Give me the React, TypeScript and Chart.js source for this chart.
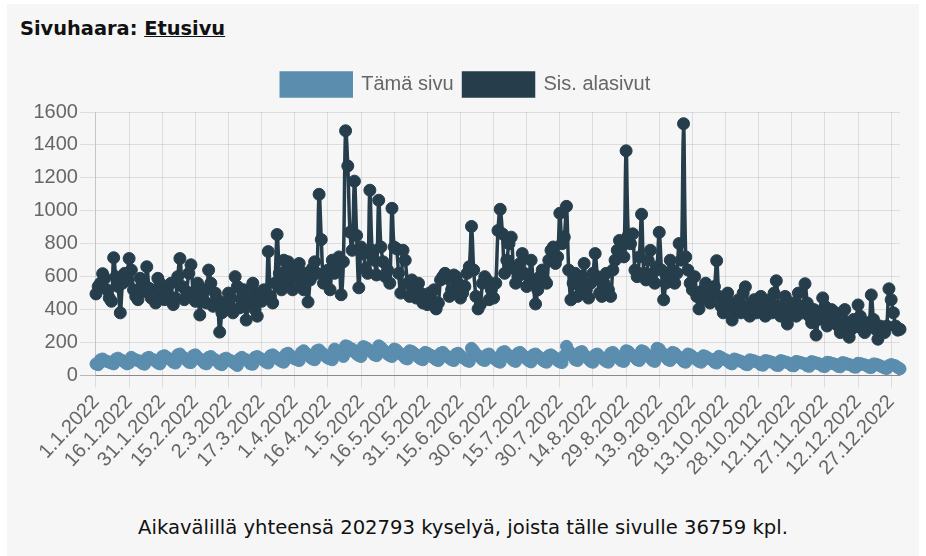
import React, { useEffect, useRef } from "react";
import { Chart, registerables } from "chart.js";

Chart.register(...registerables);

// ---- categories: one per day of 2022 ----
const START_YEAR = 2022;
const DAY_COUNT = 365;
const CATEGORIES: string[] = [];
for (let i = 0; i < DAY_COUNT; i++) {
  const d = new Date(Date.UTC(START_YEAR, 0, 1 + i));
  CATEGORIES.push(`${d.getUTCDate()}.${d.getUTCMonth() + 1}.${d.getUTCFullYear()}`);
}

// ---- visible x tick labels ----
const TICK_LABELS = [
  "1.1.2022", "16.1.2022", "31.1.2022", "15.2.2022", "2.3.2022", "17.3.2022",
  "1.4.2022", "16.4.2022", "1.5.2022", "16.5.2022", "31.5.2022", "15.6.2022",
  "30.6.2022", "15.7.2022", "30.7.2022", "14.8.2022", "29.8.2022", "13.9.2022",
  "28.9.2022", "13.10.2022", "28.10.2022", "12.11.2022", "27.11.2022",
  "12.12.2022", "27.12.2022",
];

// ---- series "Sis. alasivut" (sub pages), by month ----
const SUB_JAN = [495, 540, 560, 618, 590, 520, 470, 450, 715, 600, 540, 380, 560, 620, 580, 710, 640, 520, 480, 460, 590, 560, 510, 660, 530, 470, 500, 440, 590, 560, 490];
const SUB_FEB = [460, 520, 480, 560, 430, 470, 600, 710, 540, 460, 510, 620, 672, 500, 450, 560, 367, 480, 520, 440, 640, 560, 420, 500, 460, 263, 380, 440];
const SUB_MAR = [420, 500, 470, 380, 600, 540, 410, 460, 520, 336, 440, 480, 560, 400, 360, 500, 450, 520, 470, 752, 480, 440, 560, 856, 620, 520, 700, 560, 690, 600, 520];
const SUB_APR = [640, 600, 680, 560, 520, 620, 446, 580, 650, 690, 620, 1100, 825, 560, 600, 640, 520, 700, 620, 660, 720, 490, 690, 1486, 1272, 870, 760, 1180, 850, 532];
const SUB_MAY = [780, 740, 650, 620, 1125, 760, 700, 610, 1064, 780, 690, 600, 640, 560, 1015, 780, 770, 620, 500, 760, 700, 560, 480, 580, 520, 470, 560, 500, 440, 480, 430];
const SUB_JUN = [500, 460, 520, 404, 440, 580, 600, 620, 590, 480, 520, 610, 600, 560, 470, 500, 540, 620, 660, 905, 640, 480, 404, 430, 560, 600, 580, 460, 520, 470];
const SUB_JUL = [560, 880, 1009, 860, 620, 700, 800, 840, 650, 560, 600, 680, 740, 620, 540, 600, 700, 560, 434, 520, 600, 640, 580, 560, 700, 760, 780, 680, 720, 985, 800];
const SUB_AUG = [840, 1027, 640, 459, 560, 620, 480, 540, 600, 680, 520, 470, 560, 620, 740, 600, 500, 480, 560, 620, 520, 480, 640, 700, 760, 820, 780, 720, 1364, 850, 800];
const SUB_SEP = [860, 640, 600, 720, 979, 620, 580, 700, 760, 620, 560, 660, 869, 640, 459, 560, 600, 700, 640, 560, 620, 801, 700, 1529, 720, 640, 560, 520, 600, 480];
const SUB_OCT = [404, 460, 520, 560, 480, 440, 500, 540, 697, 480, 420, 380, 460, 500, 440, 336, 400, 420, 460, 380, 500, 538, 420, 360, 400, 460, 380, 420, 480, 440, 360];
const SUB_NOV = [400, 460, 380, 500, 575, 420, 360, 400, 480, 312, 380, 440, 400, 360, 500, 420, 380, 557, 440, 360, 320, 400, 245, 340, 380, 471, 420, 300, 360, 400];
const SUB_DEC = [320, 380, 300, 260, 340, 400, 300, 232, 280, 340, 300, 428, 360, 280, 260, 320, 300, 489, 340, 280, 220, 300, 280, 260, 300, 526, 460, 380, 300, 275, 280];

// ---- series "Tämä sivu" (this page), by month ----
const PAGE_JAN = [70, 65, 95, 100, 90, 85, 80, 75, 70, 100, 105, 95, 90, 80, 70, 75, 110, 100, 95, 90, 85, 72, 68, 105, 110, 100, 95, 88, 75, 70, 115];
const PAGE_FEB = [120, 110, 100, 95, 80, 75, 125, 130, 115, 105, 95, 80, 78, 120, 125, 110, 100, 90, 75, 70, 110, 115, 100, 95, 85, 70, 65, 100];
const PAGE_MAR = [105, 95, 90, 80, 70, 60, 100, 110, 100, 95, 85, 70, 68, 110, 115, 105, 100, 90, 80, 75, 120, 125, 115, 105, 95, 85, 80, 130, 135, 120, 110];
const PAGE_APR = [100, 95, 90, 140, 150, 135, 125, 110, 100, 95, 150, 155, 140, 130, 115, 105, 100, 95, 160, 150, 140, 130, 115, 180, 175, 150, 160, 145, 130, 120];
const PAGE_MAY = [115, 175, 170, 160, 150, 140, 125, 120, 180, 170, 155, 145, 130, 120, 115, 160, 155, 140, 130, 120, 105, 100, 150, 145, 135, 125, 110, 100, 95, 140, 135];
const PAGE_JUN = [125, 120, 105, 95, 90, 135, 140, 125, 115, 105, 95, 90, 130, 135, 120, 110, 100, 90, 85, 165, 150, 130, 120, 110, 95, 90, 125, 130, 115, 105];
const PAGE_JUL = [95, 85, 80, 140, 145, 130, 120, 105, 90, 85, 135, 140, 125, 115, 100, 88, 82, 125, 130, 118, 108, 95, 85, 80, 120, 125, 115, 105, 90, 82, 78];
const PAGE_AUG = [120, 177, 150, 130, 115, 95, 90, 140, 145, 125, 110, 100, 85, 80, 125, 130, 115, 105, 95, 85, 80, 135, 140, 125, 115, 100, 88, 85, 150, 145, 130];
const PAGE_SEP = [120, 110, 95, 90, 150, 145, 130, 120, 105, 90, 85, 165, 160, 140, 125, 110, 95, 90, 140, 135, 120, 110, 100, 85, 80, 130, 125, 115, 105, 95];
const PAGE_OCT = [85, 80, 120, 115, 105, 100, 95, 80, 75, 116, 110, 100, 95, 88, 75, 70, 100, 95, 90, 85, 80, 68, 65, 95, 92, 88, 82, 78, 65, 62, 90];
const PAGE_NOV = [88, 84, 80, 75, 62, 60, 90, 86, 82, 78, 72, 60, 58, 85, 82, 78, 74, 70, 58, 55, 84, 80, 76, 72, 68, 56, 54, 80, 78, 74];
const PAGE_DEC = [70, 66, 55, 52, 78, 75, 70, 66, 62, 52, 50, 74, 72, 68, 64, 60, 50, 48, 70, 68, 64, 58, 52, 45, 42, 60, 66, 62, 58, 48, 40];

const SUB_PAGES = [
  ...SUB_JAN, ...SUB_FEB, ...SUB_MAR, ...SUB_APR, ...SUB_MAY, ...SUB_JUN,
  ...SUB_JUL, ...SUB_AUG, ...SUB_SEP, ...SUB_OCT, ...SUB_NOV, ...SUB_DEC,
];
const THIS_PAGE = [
  ...PAGE_JAN, ...PAGE_FEB, ...PAGE_MAR, ...PAGE_APR, ...PAGE_MAY, ...PAGE_JUN,
  ...PAGE_JUL, ...PAGE_AUG, ...PAGE_SEP, ...PAGE_OCT, ...PAGE_NOV, ...PAGE_DEC,
];

const SERIES_NAMES = ["Tämä sivu", "Sis. alasivut"];
const Y_MIN = 0;
const Y_MAX = 1600;
const Y_STEP = 200;

const LIGHT = "#5a8dae";
const DARK = "#263e4b";
const GRID = "rgba(0,0,0,0.1)";
const AXIS = "rgba(0,0,0,0.25)";

const legendSpacing = {
  id: "legendSpacing",
  beforeInit(chart: any) {
    const legend = chart.legend;
    if (!legend) return;
    const orig = legend.fit;
    legend.fit = function () {
      orig.call(this);
      this.height += 6;
    };
  },
};

function ChartView() {
  const ref = useRef<HTMLCanvasElement | null>(null);
  useEffect(() => {
    if (!ref.current) return;
    Chart.defaults.font.family = "'Liberation Sans', Arial, Helvetica, sans-serif";
    Chart.defaults.font.size = 20;
    Chart.defaults.color = "#666";
    const chart = new Chart(ref.current, {
      type: "line",
      data: {
        labels: CATEGORIES,
        datasets: [
          {
            label: SERIES_NAMES[0],
            data: THIS_PAGE,
            borderColor: LIGHT,
            backgroundColor: LIGHT,
            pointBackgroundColor: LIGHT,
            pointBorderColor: LIGHT,
            borderWidth: 3.5,
            pointRadius: 6,
            pointBorderWidth: 1,
            tension: 0.4,
            fill: false,
          },
          {
            label: SERIES_NAMES[1],
            data: SUB_PAGES,
            borderColor: DARK,
            backgroundColor: DARK,
            pointBackgroundColor: DARK,
            pointBorderColor: DARK,
            borderWidth: 3.5,
            pointRadius: 6,
            pointBorderWidth: 1,
            tension: 0.4,
            fill: false,
          },
        ],
      },
      options: {
        animation: false,
        responsive: true,
        maintainAspectRatio: false,
        layout: { padding: { left: 19.5, right: 20, top: 3, bottom: 0 } },
        plugins: {
          legend: {
            display: true,
            position: "top",
            labels: {
              boxWidth: 70,
              boxHeight: 23,
              padding: 10,
              color: "#666",
              font: { size: 20 },
            },
          },
          tooltip: { enabled: false },
        },
        scales: {
          x: {
            ticks: {
              autoSkip: false,
              minRotation: 47,
              maxRotation: 47,
              padding: 3,
              color: "#666",
              font: { size: 20 },
              callback: (_v: any, i: number) =>
                TICK_LABELS.includes(CATEGORIES[i]) ? CATEGORIES[i] : null,
            },
            grid: {
              color: (c: any) => (c.tick && c.tick.label ? GRID : "transparent"),
              tickLength: 12,
            },
            border: { color: AXIS },
          },
          y: {
            min: Y_MIN,
            max: Y_MAX,
            ticks: {
              stepSize: Y_STEP,
              padding: 2,
              color: "#666",
              font: { size: 20 },
              callback: (v: any) => String(v),
            },
            grid: {
              color: (c: any) => (c.tick && c.tick.value === 0 ? AXIS : GRID),
              tickLength: 16,
            },
            border: { color: GRID },
          },
        },
      },
      plugins: [legendSpacing],
    } as any);
    return () => chart.destroy();
  }, []);
  return <canvas ref={ref} />;
}

export default function App() {
  return (
    <div style={{ position: "absolute", left: 0, top: 0, width: 926, height: 556 }}>
      <div
        style={{
          position: "absolute",
          left: 7,
          top: 4,
          width: 912,
          height: 552,
          background: "#f6f6f6",
        }}
      />
      <div
        style={{
          position: "absolute",
          left: 20,
          top: 17,
          fontFamily: "'DejaVu Sans', Verdana, sans-serif",
          fontWeight: "bold",
          fontSize: 19.4,
          color: "#111",
          whiteSpace: "nowrap",
        }}
      >
        Sivuhaara: <span style={{ textDecoration: "underline" }}>Etusivu</span>
      </div>
      <div style={{ position: "absolute", left: 12, top: 60, width: 908, height: 423 }}>
        <ChartView />
      </div>
      <div
        style={{
          position: "absolute",
          left: 7,
          width: 912,
          top: 516,
          textAlign: "center",
          fontFamily: "'DejaVu Sans', Verdana, sans-serif",
          fontSize: 19.6,
          color: "#111",
          whiteSpace: "nowrap",
        }}
      >
        Aikavälillä yhteensä 202793 kyselyä, joista tälle sivulle 36759 kpl.
      </div>
    </div>
  );
}
